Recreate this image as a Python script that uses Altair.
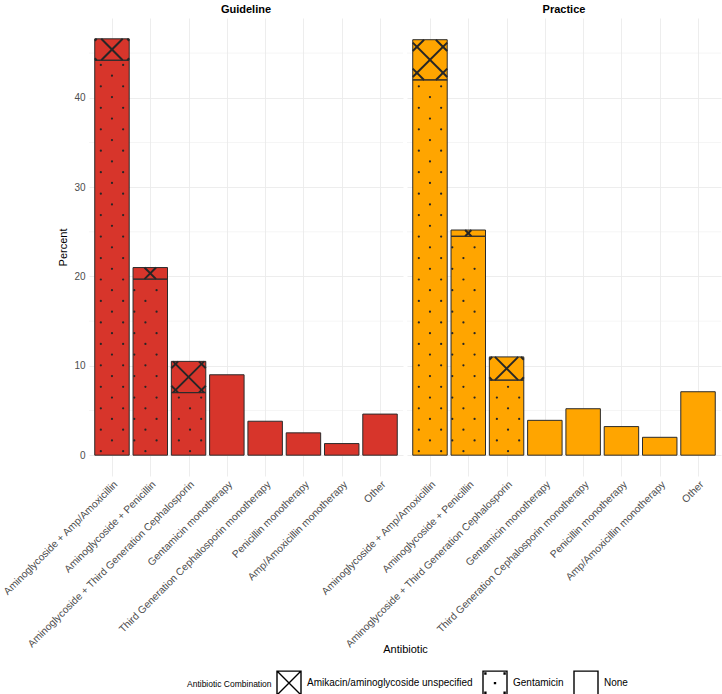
import json
import math

import altair as alt
import pandas as pd

# ---------------------------------------------------------------- data
CATEGORIES = [
    "Aminoglycoside + Amp/Amoxicillin",
    "Aminoglycoside + Penicillin",
    "Aminoglycoside + Third Generation Cephalosporin",
    "Gentamicin monotherapy",
    "Third Generation Cephalosporin monotherapy",
    "Penicillin monotherapy",
    "Amp/Amoxicillin monotherapy",
    "Other",
]
GROUPS = ["Guideline", "Practice"]
COMBINATIONS = ["Amikacin/aminoglycoside unspecified", "Gentamicin", "None"]

# percent of prescriptions, per antibiotic, split by aminoglycoside used
GUIDELINE_GENTAMICIN = [44.2, 19.7, 7.0, 0, 0, 0, 0, 0]
GUIDELINE_AMIKACIN = [2.4, 1.3, 3.5, 0, 0, 0, 0, 0]
GUIDELINE_NONE = [0, 0, 0, 9.0, 3.8, 2.5, 1.3, 4.6]

PRACTICE_GENTAMICIN = [42.0, 24.5, 8.4, 0, 0, 0, 0, 0]
PRACTICE_AMIKACIN = [4.5, 0.7, 2.6, 0, 0, 0, 0, 0]
PRACTICE_NONE = [0, 0, 0, 3.9, 5.2, 3.2, 2.0, 7.1]

Y_TICKS = [0, 10, 20, 30, 40]
Y_MINOR = [5, 15, 25, 35, 45]

# ---------------------------------------------------------------- style
FONT = "Liberation Sans"
GROUP_COLORS = {"Guideline": "#D7352B", "Practice": "#FFA500"}
OUTLINE = "#2B2B2B"
PATTERN = "#262626"
GRID = "#EBEBEB"
PANEL_W = 314
PANEL_H = 458
PANEL_GAP = 4
BAR_HALF = 0.45
X_EXPAND = 0.6

DOT_DX = 11.15   # px between dot columns
DOT_DY = 10.73   # px between dot rows
DOT_Y0 = 4.0     # px above the baseline for the first dot row
HATCH_S = 26.0   # px between crossings along a row

n_cat = len(CATEGORIES)
x_lo, x_hi = 1 - X_EXPAND, n_cat + X_EXPAND

totals = [a + b + c for a, b, c in zip(GUIDELINE_GENTAMICIN, GUIDELINE_AMIKACIN, GUIDELINE_NONE)]
totals += [a + b + c for a, b, c in zip(PRACTICE_GENTAMICIN, PRACTICE_AMIKACIN, PRACTICE_NONE)]
y_max = max(totals)
y_lo, y_hi = -0.05 * y_max, 1.05 * y_max

PPX = PANEL_W / (x_hi - x_lo)   # px per category unit
PPY = PANEL_H / (y_hi - y_lo)   # px per percent

x_scale = alt.Scale(domain=[x_lo, x_hi], nice=False, zero=False)
y_scale = alt.Scale(domain=[y_lo, y_hi], nice=False, zero=False)


def segments(gent, amik, none):
    rows = []
    for i, cat in enumerate(CATEGORIES):
        pos = i + 1
        base = 0.0
        for combo, vals in ((COMBINATIONS[1], gent), (COMBINATIONS[0], amik), (COMBINATIONS[2], none)):
            v = vals[i]
            if v > 0:
                rows.append(dict(antibiotic=cat, combination=combo, pos=pos,
                                 left=pos - BAR_HALF, right=pos + BAR_HALF,
                                 lo=base, hi=base + v, value=v))
                base += v
    return pd.DataFrame(rows)


def dot_pattern(seg):
    """Staggered dot lattice filling the Gentamicin segments."""
    rows = []
    step_x = DOT_DX / PPX
    for r in seg[seg.combination == COMBINATIONS[1]].itertuples():
        xl = r.left + 1.2 / PPX
        xr = r.right - 1.2 / PPX
        m0 = math.ceil((xl - 1) / step_x)
        m1 = math.floor((xr - 1) / step_x)
        k = 0
        while True:
            y = r.lo + (DOT_Y0 + k * DOT_DY) / PPY
            if y > r.hi - 2.0 / PPY:
                break
            for m in range(m0, m1 + 1):
                if (m + k) % 2 == 1:
                    rows.append(dict(x=1 + m * step_x, y=y))
            k += 1
    return pd.DataFrame(rows, columns=["x", "y"])


def hatch_pattern(seg):
    """45 degree crosshatch clipped to the Amikacin segments."""
    rows = []
    for r in seg[seg.combination == COMBINATIONS[0]].itertuples():
        x0, x1 = r.left * PPX, r.right * PPX
        y0, y1 = r.lo * PPY, r.hi * PPY
        xc, yc = (x0 + x1) / 2, (y0 + y1) / 2
        for n in range(-8, 9):
            b = yc - xc + n * HATCH_S          # y = x + b
            lo, hi = max(x0, y0 - b), min(x1, y1 - b)
            if hi - lo > 0.5:
                rows.append(dict(x=lo, y=lo + b, x2=hi, y2=hi + b))
            b = yc + xc + n * HATCH_S          # y = -x + b
            lo, hi = max(x0, b - y1), min(x1, b - y0)
            if hi - lo > 0.5:
                rows.append(dict(x=lo, y=b - lo, x2=hi, y2=b - hi))
    df = pd.DataFrame(rows, columns=["x", "y", "x2", "y2"])
    df[["x", "x2"]] = df[["x", "x2"]] / PPX
    df[["y", "y2"]] = df[["y", "y2"]] / PPY
    return df


label_expr = json.dumps(CATEGORIES) + "[datum.value - 1]"

SHAPE_PATHS = [
    "M-1,-1H1V1H-1Z M-1,-1L1,1 M-1,1L1,-1",
    "M-1,-1H1V1H-1Z M-0.04,-0.04H0.04V0.04H-0.04Z "
    "M-0.84,-0.84H-0.76V-0.76H-0.84Z M0.76,-0.84H0.84V-0.76H0.76Z "
    "M-0.84,0.76H-0.76V0.84H-0.84Z M0.76,0.76H0.84V0.84H0.76Z",
    "M-1,-1H1V1H-1Z",
]


def panel(group, gent, amik, none, first):
    seg = segments(gent, amik, none)
    dots = dot_pattern(seg)
    hatch = hatch_pattern(seg)
    color = GROUP_COLORS[group]

    x_axis = alt.Axis(
        values=list(range(1, n_cat + 1)), labelExpr=label_expr,
        labelAngle=-45, labelAlign="right", labelBaseline="top",
        labelFontSize=10.3, labelColor="#4D4D4D", labelPadding=3, labelLimit=0,
        labelOverlap=False, labelFlush=False, labelBound=False,
        ticks=False, domain=False, grid=True, gridColor=GRID, gridWidth=0.9,
        title="Antibiotic" if first else None,
        titleFontSize=11, titleFontWeight="normal", titleColor="#000000",
        titleX=(PANEL_W * 2 + PANEL_GAP) / 2, titleY=173, titleAlign="center",
        titleBaseline="middle", titleAnchor="start",
    )
    if first:
        y_axis = alt.Axis(
            values=Y_TICKS, labelFontSize=10, labelColor="#4D4D4D", labelPadding=4,
            ticks=False, domain=False, grid=True, gridColor=GRID, gridWidth=0.9,
            title="Percent", titleFontSize=11, titleFontWeight="normal",
            titleColor="#000000", titlePadding=5,
        )
    else:
        y_axis = alt.Axis(values=Y_TICKS, labels=False, ticks=False, domain=False,
                          grid=True, gridColor=GRID, gridWidth=0.9, title=None)

    minor = alt.Chart(pd.DataFrame({"y": Y_MINOR})).mark_rule(
        color=GRID, strokeWidth=0.5
    ).encode(y=alt.Y("y:Q", scale=y_scale, axis=y_axis))

    fills = alt.Chart(seg).mark_rect(fill=color, strokeWidth=0).encode(
        x=alt.X("left:Q", scale=x_scale, axis=x_axis),
        x2="right:Q",
        y=alt.Y("lo:Q", scale=y_scale, axis=y_axis),
        y2="hi:Q",
    )
    hatch_layer = alt.Chart(hatch).mark_rule(
        color=PATTERN, strokeWidth=2, strokeCap="butt"
    ).encode(
        x=alt.X("x:Q", scale=x_scale, axis=x_axis), x2="x2:Q",
        y=alt.Y("y:Q", scale=y_scale, axis=y_axis), y2="y2:Q",
    )
    dot_layer = alt.Chart(dots).mark_circle(size=5, color=PATTERN, opacity=1).encode(
        x=alt.X("x:Q", scale=x_scale, axis=x_axis),
        y=alt.Y("y:Q", scale=y_scale, axis=y_axis),
    )
    outlines = alt.Chart(seg).mark_rect(
        fillOpacity=0, stroke=OUTLINE, strokeWidth=1
    ).encode(
        x=alt.X("left:Q", scale=x_scale, axis=x_axis),
        x2="right:Q",
        y=alt.Y("lo:Q", scale=y_scale, axis=y_axis),
        y2="hi:Q",
    )
    layers = [minor, fills, hatch_layer, dot_layer, outlines]

    if first:
        key = alt.Chart(pd.DataFrame({"combination": COMBINATIONS})).mark_point(
            opacity=0, filled=False, color="#000000", size=576
        ).encode(
            shape=alt.Shape(
                "combination:N",
                scale=alt.Scale(domain=COMBINATIONS, range=SHAPE_PATHS),
                legend=alt.Legend(
                    title="Antibiotic Combination", orient="none",
                    legendX=98, legendY=652, direction="horizontal",
                    titleOrient="left", titleFontSize=8.5, titleFontWeight="normal",
                    titleColor="#000000", titleBaseline="middle",
                    labelFontSize=10, labelColor="#000000", labelOffset=5,
                    labelLimit=0,
                    symbolSize=576, symbolStrokeWidth=1.4,
                    symbolStrokeColor="#000000", symbolFillColor="#FFFFFF",
                    symbolOpacity=1, columnPadding=7, titlePadding=4,
                ),
            )
        )
        layers.append(key)

    return alt.layer(*layers).properties(
        width=PANEL_W, height=PANEL_H,
        title=alt.TitleParams(group, fontSize=11, fontWeight="bold",
                              color="#000000", anchor="middle", offset=3),
    )


guideline = panel("Guideline", GUIDELINE_GENTAMICIN, GUIDELINE_AMIKACIN, GUIDELINE_NONE, True)
practice = panel("Practice", PRACTICE_GENTAMICIN, PRACTICE_AMIKACIN, PRACTICE_NONE, False)

chart = (
    alt.hconcat(guideline, practice, spacing=PANEL_GAP, bounds="flush")
    .properties(padding={"left": 1, "top": 4, "right": 0, "bottom": 0}, background="#FFFFFF")
    .configure(font=FONT)
    .configure_view(stroke=None)
)

chart.save("out.html", embed_options={"renderer": "svg", "actions": False})
